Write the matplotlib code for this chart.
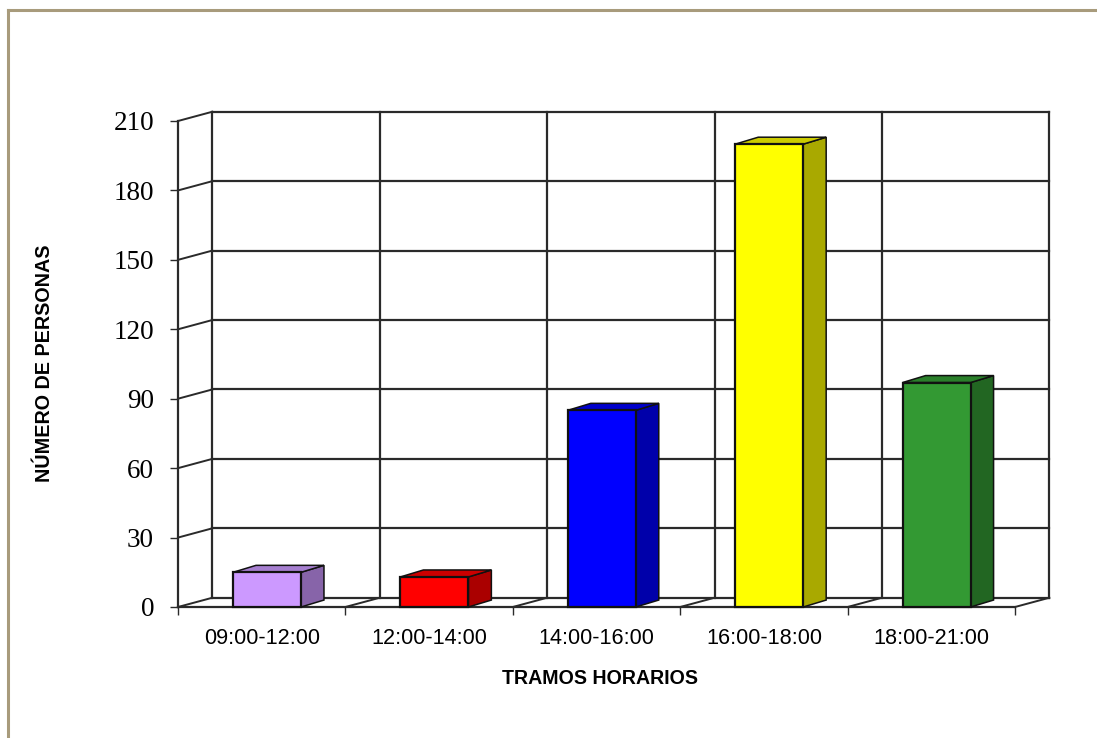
import matplotlib
matplotlib.use('Agg')
import matplotlib.pyplot as plt
from matplotlib.lines import Line2D
from matplotlib.patches import Polygon

tramos = ['09:00-12:00', '12:00-14:00', '14:00-16:00', '16:00-18:00', '18:00-21:00']
personas = [15, 13, 85, 200, 97]
front_colors = ['#CC99FF', '#FF0000', '#0000FF', '#FFFF00', '#339933']
side_colors = ['#8764A9', '#AA0000', '#0000AA', '#A9A900', '#226622']
top_colors = ['#A67FD0', '#CC0000', '#0000CC', '#CCCC00', '#2A7F2A']
y_ticks = [0, 30, 60, 90, 120, 150, 180, 210]

W, H = 1097, 738
line_col = '#2A2A2A'
sans = 'Liberation Sans'

fig = plt.figure(figsize=(W / 100, H / 100), dpi=100)
# axes = front plane of the 3d box, walls and bars stick out past it
ax = fig.add_axes([178 / W, 1 - 607 / H, 837 / W, 486 / H])
ax.set_xlim(0, 5)
ax.set_ylim(0, 210)
for s in ax.spines.values():
    s.set_visible(False)
ax.patch.set_visible(False)

# depth of the walls and of the bars, in data units
wall_dx, wall_dy = 0.205, 4.0
bar_dx, bar_dy = 0.137, 3.0
bar_left, bar_w = 0.329, 0.406


def wall_line(xs, ys, lw=1.6, z=1):
    ax.plot(xs, ys, color=line_col, lw=lw, solid_capstyle='projecting',
            clip_on=False, zorder=z)


# horizontal grid on the back wall + slanted bits on the left wall
for v in y_ticks:
    wall_line([wall_dx, 5 + wall_dx], [v + wall_dy, v + wall_dy])
    if v > 0:
        wall_line([0, wall_dx], [v, v + wall_dy], lw=1.4)

# vertical grid on the back wall, floor slants
for i in range(6):
    wall_line([i + wall_dx, i + wall_dx], [wall_dy, 210 + wall_dy])
    wall_line([i, i + wall_dx], [0, wall_dy], lw=1.4)

wall_line([0, 0], [0, 210])
wall_line([0, 5], [0, 0], z=2)


def bar3d(i, v):
    x0 = i + bar_left
    x1 = x0 + bar_w
    ax.bar(x0, v, width=bar_w, align='edge', color=front_colors[i],
           edgecolor='#111111', linewidth=1.6, clip_on=False, zorder=5)
    side = [(x1, 0), (x1 + bar_dx, bar_dy), (x1 + bar_dx, v + bar_dy), (x1, v)]
    top = [(x0, v), (x0 + bar_dx, v + bar_dy), (x1 + bar_dx, v + bar_dy), (x1, v)]
    ax.add_patch(Polygon(side, closed=True, facecolor=side_colors[i], edgecolor='#111111',
                         linewidth=1.1, clip_on=False, zorder=4))
    ax.add_patch(Polygon(top, closed=True, facecolor=top_colors[i], edgecolor='#111111',
                         linewidth=1.1, clip_on=False, zorder=4))


for i, v in enumerate(personas):
    bar3d(i, v)

ax.set_yticks(y_ticks)
ax.set_yticklabels([str(v) for v in y_ticks], family='Liberation Serif', fontsize=19.5, color='black')
ax.tick_params(axis='y', length=5.5, width=1.0, pad=11.7, color=line_col)

ax.set_xticks(range(6))
ax.set_xticklabels([])
ax.tick_params(axis='x', length=5.5, width=1.0, color=line_col)
# category names sit between the ticks
for i, name in enumerate(tramos):
    ax.annotate(name, (i + 0.5, 0), xytext=(0, -32), textcoords='offset pixels',
                ha='center', va='center', family=sans, fontsize=15.6, color='black',
                annotation_clip=False)

fig.text(600 / W, 1 - 679 / H, 'TRAMOS HORARIOS', ha='center', va='center',
         family=sans, fontweight='bold', fontsize=14.1, color='black')
fig.text(45 / W, 1 - 363 / H, 'NÚMERO DE PERSONAS', ha='center', va='center', rotation=90,
         family=sans, fontweight='bold', fontsize=14.2, color='black')

# page frame, only top and left show
frame = '#A89B7C'
fig.add_artist(Line2D([8 / W, 8 / W], [0, 1 - 9.5 / H], color=frame, lw=2.2,
                      transform=fig.transFigure))
fig.add_artist(Line2D([8 / W, 1], [1 - 9.5 / H, 1 - 9.5 / H], color=frame, lw=2.2,
                      transform=fig.transFigure))

fig.savefig('out.png', dpi=100, facecolor='white')
